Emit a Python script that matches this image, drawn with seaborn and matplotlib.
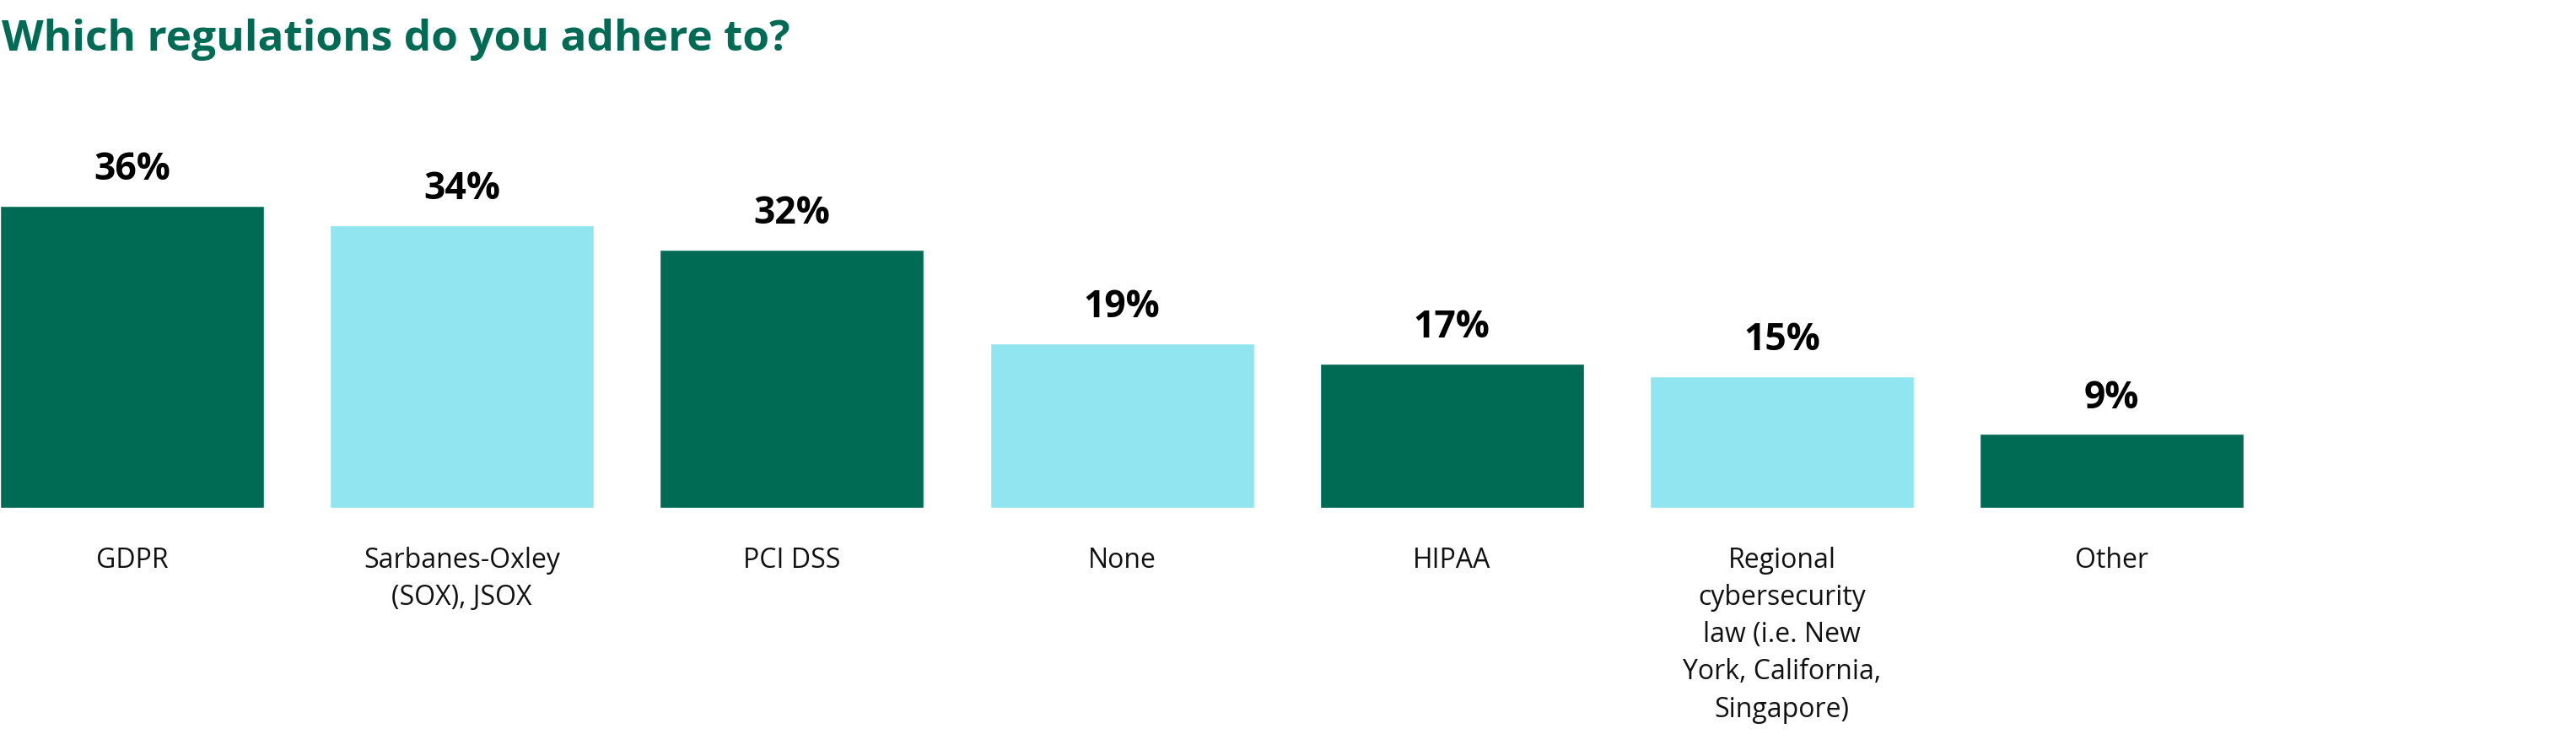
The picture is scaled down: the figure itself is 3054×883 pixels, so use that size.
import matplotlib
matplotlib.use("Agg")
import matplotlib.pyplot as plt
import seaborn as sns
import pandas as pd

# chart data
categories = ["GDPR", "Sarbanes-Oxley\n(SOX), JSOX", "PCI DSS", "None", "HIPAA",
              "Regional\ncybersecurity\nlaw (i.e. New\nYork, California,\nSingapore)", "Other"]
labels = [36, 34, 32, 19, 17, 15, 9]               # printed percentages
heights = [36, 33.7, 30.8, 19.6, 17.2, 15.7, 8.8]  # bar heights as drawn in the picture
title = "Which regulations do you adhere to?"

dark_green = "#006B55"
light_blue = "#91E5F1"
bar_colors = [dark_green, light_blue, dark_green, light_blue, dark_green, light_blue, dark_green]

df = pd.DataFrame({"regulation": categories, "share": heights})

sns.set_style("white")
plt.rcParams["font.family"] = ["Open Sans", "DejaVu Sans"]

fig = plt.figure(figsize=(30.54, 8.83), dpi=100)
# axes spans full width, bars end ~602 px from top
ax = fig.add_axes([0, 281.3 / 883, 1, 601.7 / 883])

sns.barplot(data=df, x="regulation", y="share", hue="regulation",
            palette=bar_colors, legend=False, width=0.8, saturation=1, ax=ax)

ax.set_xlim(-0.4, -0.4 + 3054 / 391.2)
ax.set_ylim(0, 601.7 / 9.94)

for cont, lab in zip(ax.containers, labels):
    ax.bar_label(cont, labels=[f"{lab}%"], padding=14, fontsize=32,
                 fontweight="bold", color="#000000")

ax.set_xlabel("")
ax.set_ylabel("")
ax.set_yticks([])
ax.tick_params(axis="x", length=0, pad=33, labelsize=23, labelcolor="#111111")
for lbl in ax.get_xticklabels():
    lbl.set_linespacing(1.45)
sns.despine(ax=ax, left=True, bottom=True)

fig.text(0.0007, 1 - 60 / 883, title, fontsize=37, fontweight="bold",
         color=dark_green, va="baseline", ha="left")

fig.savefig("out.png", dpi=100)
